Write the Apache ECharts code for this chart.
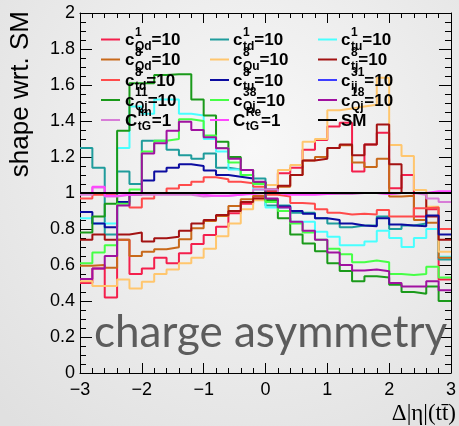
<!DOCTYPE html>
<html>
<head>
<meta charset="utf-8">
<script src="https://cdn.jsdelivr.net/npm/echarts@6/dist/echarts.min.js"></script>
<style>
  html, body { margin: 0; padding: 0; }
  #chart { width: 459px; height: 426px; }
</style>
</head>
<body>
<div id="chart"></div>
<script>
// Bin edges of Δ|η|(tt̄) (30 bins of width 0.2)
const binEdges = [-3, -2.8, -2.6, -2.4, -2.2, -2, -1.8, -1.6, -1.4, -1.2, -1, -0.8, -0.6, -0.4, -0.2,
                  0, 0.2, 0.4, 0.6, 0.8, 1, 1.2, 1.4, 1.6, 1.8, 2, 2.2, 2.4, 2.6, 2.8, 3];

// Shape ratio to SM, one value per bin
const c1Qd  = [0.50,0.58,0.42,0.74,0.55,0.58,0.64,0.61,0.665,0.717,0.767,0.813,0.887,0.94,0.98,
               1.01,1.11,1.14,1.24,1.295,1.37,1.39,1.12,1.27,1.335,1.026,1.10,0.87,0.91,0.52];
const c1td  = [1.25,1.14,0.77,1.12,1.05,1.29,1.29,1.24,1.21,1.19,1.22,1.14,1.13,1.10,1.08,
               0.93,0.93,0.89,0.89,0.86,0.83,0.81,0.82,0.82,0.87,0.80,0.82,0.83,0.92,0.63];
const c1tu  = [0.86,0.83,0.83,1.25,1.48,1.44,1.52,1.52,1.44,1.43,1.30,1.23,1.13,1.10,1.02,
               0.92,0.92,0.84,0.84,0.785,0.757,0.71,0.71,0.73,0.79,0.75,0.70,0.75,0.80,0.646];
const c8Qd  = [0.596,0.60,0.585,0.74,0.65,0.674,0.687,0.698,0.743,0.804,0.844,0.872,0.928,0.965,0.985,
               1.015,1.035,1.10,1.18,1.20,1.25,1.265,1.17,1.145,1.19,0.98,0.985,0.85,0.835,0.64];
const c8Qu  = [0.51,0.483,0.483,0.52,0.47,0.507,0.55,0.575,0.61,0.64,0.69,0.76,0.83,0.91,0.96,
               1.044,1.128,1.155,1.285,1.30,1.46,1.47,1.48,1.49,1.64,1.267,1.206,1.017,0.924,0.674];
const c8tj  = [0.74,0.77,0.74,0.77,0.78,0.73,0.748,0.757,0.79,0.83,0.85,0.878,0.90,0.95,0.97,
               1.02,1.04,1.10,1.18,1.19,1.25,1.27,1.21,1.27,1.38,1.16,1.0,1.0,0.87,0.74];
const c8td  = [0.97,0.99,0.99,0.95,0.92,0.97,1.0,1.025,1.045,1.063,1.087,1.076,1.063,1.054,1.035,
               0.99,0.98,0.945,0.94,0.91,0.89,0.88,0.885,0.88,0.905,0.87,0.87,0.915,0.92,0.80];
const c8tu  = [0.895,0.83,0.81,0.95,1.0,1.07,1.12,1.14,1.16,1.15,1.125,1.10,1.09,1.08,1.06,
               0.96,0.925,0.90,0.885,0.86,0.85,0.83,0.82,0.815,0.86,0.825,0.82,0.815,0.875,0.77];
const c31ij = [1,1,1,1,1,1,1,1,1,1,1,1,1,1,1,
               1,1,1,1,1,1,1,1,1,1,1,1,1,1,1];
const c11Qj = [0.78,0.87,0.94,1.346,1.61,1.61,1.655,1.66,1.66,1.52,1.43,1.285,1.20,1.128,1.055,
               0.96,0.86,0.77,0.72,0.677,0.61,0.567,0.51,0.537,0.53,0.49,0.45,0.44,0.48,0.40];
const c38Qj = [0.61,0.67,0.71,0.94,1.02,1.23,1.29,1.30,1.41,1.40,1.32,1.25,1.17,1.10,1.05,
               0.95,0.90,0.83,0.78,0.74,0.69,0.66,0.615,0.625,0.615,0.55,0.545,0.55,0.59,0.53];
const c18Qj = [0.522,0.58,0.65,0.93,0.99,1.22,1.276,1.346,1.396,1.35,1.31,1.248,1.19,1.128,1.063,
               0.97,0.92,0.84,0.79,0.74,0.67,0.60,0.57,0.575,0.565,0.50,0.48,0.48,0.51,0.46];
const CImtG = [0.99,1.03,0.98,0.99,0.99,0.99,0.99,0.99,0.99,0.98,0.985,0.985,0.99,1.0,1.02,
               1.02,1.0,1.0,1.0,0.995,0.995,0.995,1.0,1.0,0.995,1.0,1.0,0.99,0.97,0.95];
const CRetG = [1.0,1.035,0.985,0.99,1.0,1.0,1.0,1.0,1.0,0.99,0.985,0.985,0.99,0.995,1.0,
               1.0,0.99,0.99,0.99,0.995,1.0,1.0,1.0,1.0,0.995,1.0,1.0,1.0,1.01,1.01];
const SM    = [1,1,1,1,1,1,1,1,1,1,1,1,1,1,1,
               1,1,1,1,1,1,1,1,1,1,1,1,1,1,1];

const xTickValues = [-3, -2, -1, 0, 1, 2, 3];

// Legend text pieces, in drawing order (row by row, three columns)
const legendBase = ['c','c','c','c','c','c','c','c','c','c','c','c','C','C','SM'];
const legendSup  = ['1','1','1','8','8','8','8','8','31','11','38','18','Im','Re',''];
const legendSub  = ['Qd','td','tu','Qd','Qu','tj','td','tu','ij','Qj','Qj','Qj','tG','tG',''];
const legendVal  = ['=10','=10','=10','=10','=10','=10','=10','=10','=10','=10','=10','=10','=1','=1',''];

const seriesData = [c1Qd, c1td, c1tu, c8Qd, c8Qu, c8tj, c8td, c8tu, c31ij, c11Qj, c38Qj, c18Qj, CImtG, CRetG, SM];
const colors = ['#f41f4c','#1f9c9c','#48ffff','#c8691a','#ffc66e','#a31212','#ff4b4b','#0c0ca0',
                '#3d3dff','#1a9a1a','#46ff46','#a011a0','#d77cd7','#ff46ff','#000000'];

const chart = echarts.init(document.getElementById('chart'), null, { renderer: 'canvas' });

const GRID = { left: 80, right: 3, top: 13, bottom: 53 };

function stepPoints(vals) {
  return binEdges.map((x, i) => [x, vals[Math.min(i, vals.length - 1)]]);
}

const series = seriesData.map((vals, i) => ({
  type: 'line',
  name: legendBase[i] + legendSup[i] + legendSub[i],
  data: stepPoints(vals),
  step: 'end',
  symbol: 'none',
  silent: true,
  animation: false,
  lineStyle: { color: colors[i], width: 2 },
  z: 2 + i
}));

// Legend drawn as graphic text so sub/superscripts can stack
const measureCtx = document.createElement('canvas').getContext('2d');
function textWidth(str, font) { measureCtx.font = font; return measureCtx.measureText(str).width; }

const MAIN_FONT = 'bold 17px "Liberation Sans"';
const SMALL_FONT = 'bold 12px "Liberation Sans"';
const colLineX = [101, 210, 318];
const colTextX = [125, 233, 341];
const rowY = [39.5, 59.5, 80, 100, 120];

const graphics = [];
legendBase.forEach((base, i) => {
  const col = i % 3, row = Math.floor(i / 3);
  const yc = rowY[row];
  const lx = colLineX[col], tx = colTextX[col];
  graphics.push({
    type: 'line', z: 50, silent: true,
    shape: { x1: lx, y1: yc, x2: lx + 19, y2: yc },
    style: { stroke: colors[i], lineWidth: 2 }
  });
  graphics.push({
    type: 'text', z: 51, silent: true, x: tx, y: yc + 1,
    style: { text: base, font: MAIN_FONT, fill: '#000', align: 'left', verticalAlign: 'middle' }
  });
  if (legendSup[i] || legendSub[i]) {
    const bw = textWidth(base, MAIN_FONT);
    const sx = tx + bw + 0.5;
    graphics.push({
      type: 'text', z: 51, silent: true, x: sx, y: yc - 7,
      style: { text: legendSup[i], font: SMALL_FONT, fill: '#000', align: 'left', verticalAlign: 'middle' }
    });
    graphics.push({
      type: 'text', z: 51, silent: true, x: sx, y: yc + 7,
      style: { text: legendSub[i], font: SMALL_FONT, fill: '#000', align: 'left', verticalAlign: 'middle' }
    });
    const sw = Math.max(textWidth(legendSup[i], SMALL_FONT), textWidth(legendSub[i], SMALL_FONT));
    graphics.push({
      type: 'text', z: 51, silent: true, x: sx + sw, y: yc + 1,
      style: { text: legendVal[i], font: MAIN_FONT, fill: '#000', align: 'left', verticalAlign: 'middle' }
    });
  }
});

// Axis titles and the panel caption
graphics.push({
  type: 'text', silent: true, x: 21, y: 11, rotation: Math.PI / 2,
  style: { text: 'shape wrt. SM', font: '26px "Liberation Sans"', fill: '#000', align: 'right', verticalAlign: 'middle' }
});
graphics.push({
  type: 'text', silent: true, x: 456, y: 414,
  style: { text: 'Δ|η|(tt\u0304)', font: '23px "Liberation Serif"', fill: '#000', align: 'right', verticalAlign: 'middle' }
});
graphics.push({
  type: 'text', silent: true, x: 94, y: 333, z: 1,
  style: { text: 'charge asymmetry', font: '44px Lato', fill: '#5c5c5c', align: 'left', verticalAlign: 'middle' }
});

const axisCommon = {
  axisLine: { show: true, onZero: false, lineStyle: { color: '#000', width: 1 } },
  splitLine: { show: false }
};

chart.setOption({
  backgroundColor: {
    type: 'radial', x: 0.55, y: 0.35, r: 0.85,
    colorStops: [{ offset: 0, color: '#f8f8f8' }, { offset: 1, color: '#e0e0e0' }]
  },
  animation: false,
  grid: GRID,
  xAxis: [
    Object.assign({}, axisCommon, {
      type: 'value', min: -3, max: 3, interval: 1, position: 'bottom',
      axisTick: { show: true, inside: true, length: 10, lineStyle: { color: '#000' } },
      minorTick: { show: true, splitNumber: 5, length: 5, lineStyle: { color: '#000' } },
      axisLabel: {
        show: true, margin: 8, color: '#000', fontSize: 18, fontFamily: 'Liberation Sans',
        formatter: v => (xTickValues.includes(v) ? String(v).replace('-', '\u2212') : '')
      }
    }),
    Object.assign({}, axisCommon, {
      type: 'value', min: -3, max: 3, interval: 1, position: 'top',
      axisTick: { show: true, inside: true, length: 10, lineStyle: { color: '#000' } },
      minorTick: { show: true, splitNumber: 5, length: 5, lineStyle: { color: '#000' } },
      axisLabel: { show: false }
    })
  ],
  yAxis: [
    Object.assign({}, axisCommon, {
      type: 'value', min: 0, max: 2, interval: 0.2, position: 'left',
      axisTick: { show: true, inside: true, length: 12, lineStyle: { color: '#000' } },
      minorTick: { show: true, splitNumber: 4, length: 6, lineStyle: { color: '#000' } },
      axisLabel: {
        show: true, margin: 5, color: '#000', fontSize: 18, fontFamily: 'Liberation Sans',
        formatter: v => String(Math.round(v * 10) / 10)
      }
    }),
    Object.assign({}, axisCommon, {
      type: 'value', min: 0, max: 2, interval: 0.2, position: 'right',
      axisTick: { show: true, inside: true, length: 12, lineStyle: { color: '#000' } },
      minorTick: { show: true, splitNumber: 4, length: 6, lineStyle: { color: '#000' } },
      axisLabel: { show: false }
    })
  ],
  series: series,
  graphic: graphics
});
</script>
</body>
</html>
